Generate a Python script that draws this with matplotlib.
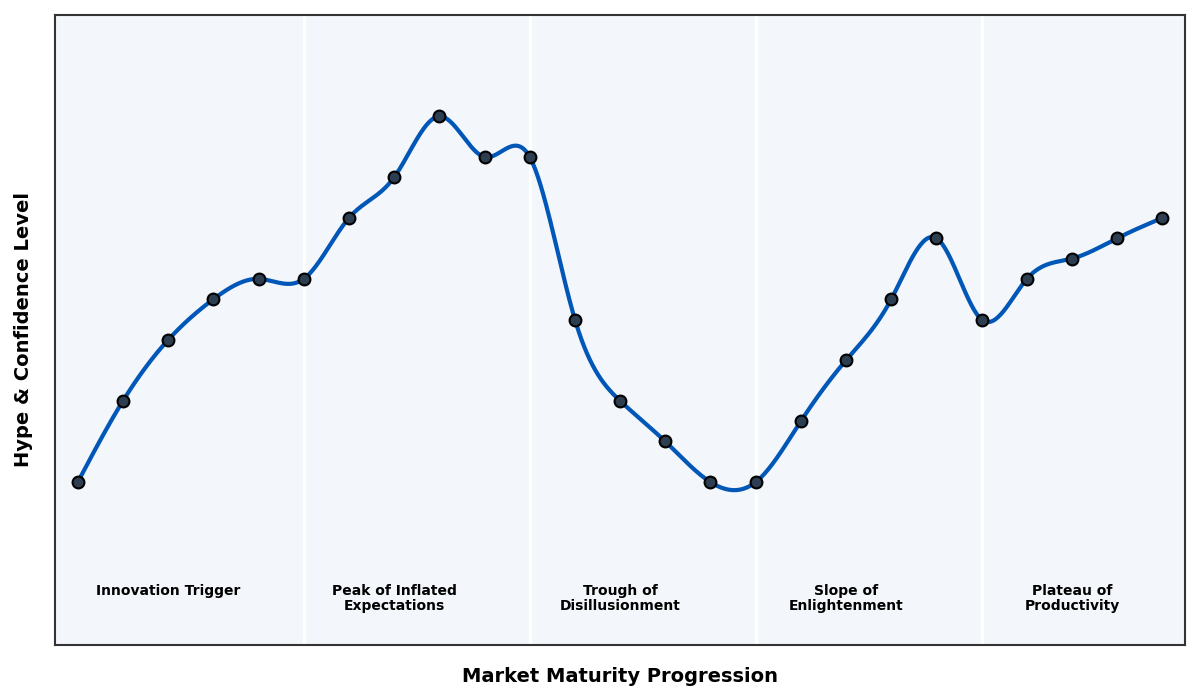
import numpy as np
import matplotlib
matplotlib.use("Agg")
import matplotlib.pyplot as plt

# hype level per step along the market maturity axis
steps = list(range(25))
hype = [20, 40, 55, 65, 70, 70, 85, 95, 110, 100, 100, 60, 40, 30, 20,
        20, 35, 50, 65, 80, 60, 70, 75, 80, 85]

phase_names = ["Innovation Trigger", "Peak of Inflated\nExpectations",
               "Trough of\nDisillusionment", "Slope of\nEnlightenment",
               "Plateau of\nProductivity"]
phase_centers = [2, 7, 12, 17, 22]
phase_bounds = [5, 10, 15, 20]


def natural_spline(x, y, xs):
    # plain natural cubic spline, no scipy needed
    x = np.asarray(x, float)
    y = np.asarray(y, float)
    n = len(x)
    h = np.diff(x)
    A = np.zeros((n, n))
    b = np.zeros(n)
    A[0, 0] = 1
    A[-1, -1] = 1
    for i in range(1, n - 1):
        A[i, i - 1] = h[i - 1]
        A[i, i] = 2 * (h[i - 1] + h[i])
        A[i, i + 1] = h[i]
        b[i] = 3 * ((y[i + 1] - y[i]) / h[i] - (y[i] - y[i - 1]) / h[i - 1])
    c = np.linalg.solve(A, b)
    idx = np.clip(np.searchsorted(x, xs) - 1, 0, n - 2)
    dx = xs - x[idx]
    bb = (y[idx + 1] - y[idx]) / h[idx] - h[idx] * (2 * c[idx] + c[idx + 1]) / 3
    d = (c[idx + 1] - c[idx]) / (3 * h[idx])
    return y[idx] + bb * dx + c[idx] * dx ** 2 + d * dx ** 3


fig, ax = plt.subplots(figsize=(12, 7), dpi=100)
fig.subplots_adjust(left=0.046, right=0.9875, top=0.979, bottom=0.079)

ax.set_facecolor("#f3f6fa")
for s in ax.spines.values():
    s.set_color("#333333")
    s.set_linewidth(1.5)

for xb in phase_bounds:
    ax.axvline(xb, color="white", linewidth=2.5, zorder=1)

xs = np.linspace(steps[0], steps[-1], 800)
ax.plot(xs, natural_spline(steps, hype, xs), color="#0057b7", linewidth=3, zorder=2)
ax.plot(steps, hype, linestyle="none", marker="o", markersize=8.5,
        markerfacecolor="#2c3e50", markeredgecolor="black", markeredgewidth=1.5, zorder=3)

for xc, name in zip(phase_centers, phase_names):
    ax.text(xc, -5, name, ha="center", va="top", fontsize=10,
            fontweight="bold", linespacing=1.15)

ax.set_xlim(-0.5, 24.5)
ax.set_ylim(-20, 135)
ax.set_xticks([])
ax.set_yticks([])
ax.set_xlabel("Market Maturity Progression", fontsize=14, fontweight="bold", labelpad=16)
ax.set_ylabel("Hype & Confidence Level", fontsize=14, fontweight="bold", labelpad=16)

fig.savefig("out.png", dpi=100)
